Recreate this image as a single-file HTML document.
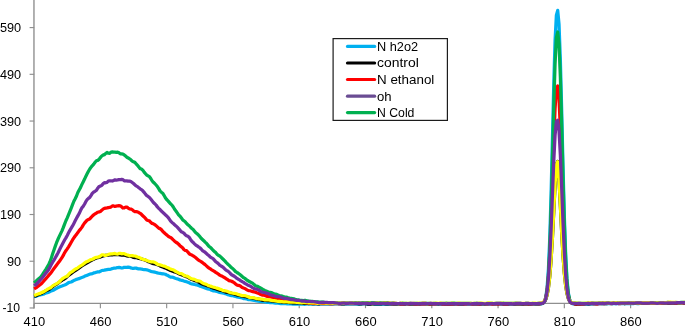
<!DOCTYPE html>
<html lang="en"><head><meta charset="utf-8"><title>Chart</title>
<style>html,body{margin:0;padding:0;background:#fff;overflow:hidden}svg{display:block}</style></head>
<body>
<svg width="685" height="326" viewBox="0 0 685 326">
<rect width="685" height="326" fill="#fff"/>
<g stroke="#a9a9a9" stroke-width="1.8" fill="none">
<path d="M33.95,0 V308.4"/>
</g>
<g stroke="#8f8f8f" stroke-width="1.15" fill="none">
<path d="M34.2,303.4 H685"/>
<path d="M34.10,303.4 V308.2"/>
<path d="M100.38,303.4 V308.2"/>
<path d="M166.66,303.4 V308.2"/>
<path d="M232.94,303.4 V308.2"/>
<path d="M299.22,303.4 V308.2"/>
<path d="M365.50,303.4 V308.2"/>
<path d="M431.78,303.4 V308.2"/>
<path d="M498.06,303.4 V308.2"/>
<path d="M564.34,303.4 V308.2"/>
<path d="M630.62,303.4 V308.2"/>
<path d="M29.6,307.97 H34.2"/>
<path d="M29.6,261.24 H34.2"/>
<path d="M29.6,214.51 H34.2"/>
<path d="M29.6,167.78 H34.2"/>
<path d="M29.6,121.05 H34.2"/>
<path d="M29.6,74.32 H34.2"/>
<path d="M29.6,27.59 H34.2"/>
</g>
<g font-family="'Liberation Sans', Arial, sans-serif" font-size="12.4" fill="#000">
<text x="2.50" y="312.47" textLength="17.6" lengthAdjust="spacingAndGlyphs">-10</text>
<text x="6.90" y="265.74" textLength="14.2" lengthAdjust="spacingAndGlyphs">90</text>
<text x="-0.10" y="219.01" textLength="21.2" lengthAdjust="spacingAndGlyphs">190</text>
<text x="-0.10" y="172.28" textLength="21.2" lengthAdjust="spacingAndGlyphs">290</text>
<text x="-0.10" y="125.55" textLength="21.2" lengthAdjust="spacingAndGlyphs">390</text>
<text x="-0.10" y="78.82" textLength="21.2" lengthAdjust="spacingAndGlyphs">490</text>
<text x="-0.10" y="32.09" textLength="21.2" lengthAdjust="spacingAndGlyphs">590</text>
<text x="23.60" y="325.9" textLength="21.6" lengthAdjust="spacingAndGlyphs">410</text>
<text x="89.88" y="325.9" textLength="21.6" lengthAdjust="spacingAndGlyphs">460</text>
<text x="156.16" y="325.9" textLength="21.6" lengthAdjust="spacingAndGlyphs">510</text>
<text x="222.44" y="325.9" textLength="21.6" lengthAdjust="spacingAndGlyphs">560</text>
<text x="288.72" y="325.9" textLength="21.6" lengthAdjust="spacingAndGlyphs">610</text>
<text x="355.00" y="325.9" textLength="21.6" lengthAdjust="spacingAndGlyphs">660</text>
<text x="421.28" y="325.9" textLength="21.6" lengthAdjust="spacingAndGlyphs">710</text>
<text x="487.56" y="325.9" textLength="21.6" lengthAdjust="spacingAndGlyphs">760</text>
<text x="553.84" y="325.9" textLength="21.6" lengthAdjust="spacingAndGlyphs">810</text>
<text x="620.12" y="325.9" textLength="21.6" lengthAdjust="spacingAndGlyphs">860</text>
</g>
<g fill="none" stroke-width="3.25" stroke-linejoin="round" stroke-linecap="butt">
<path stroke="#00B0F0" d="M34.10,296.78 L35.43,296.46 L36.75,296.00 L38.08,295.51 L39.40,295.07 L40.73,294.71 L42.05,294.53 L43.38,294.25 L44.70,293.58 L46.03,293.01 L47.36,292.69 L48.68,292.23 L50.01,291.55 L51.33,290.88 L52.66,290.46 L53.98,289.93 L55.31,289.11 L56.64,288.36 L57.96,287.63 L59.29,286.94 L60.61,286.44 L61.94,285.99 L63.26,285.48 L64.59,285.06 L65.91,284.55 L67.24,283.60 L68.57,282.67 L69.89,282.28 L71.22,282.00 L72.54,281.31 L73.87,280.49 L75.19,279.89 L76.52,279.33 L77.84,278.95 L79.17,278.62 L80.50,277.94 L81.82,277.46 L83.15,277.06 L84.47,276.35 L85.80,275.80 L87.12,275.40 L88.45,274.77 L89.78,274.13 L91.10,273.97 L92.43,273.63 L93.75,272.94 L95.08,272.65 L96.40,272.26 L97.73,271.90 L99.05,271.92 L100.38,271.34 L101.71,270.50 L103.03,270.30 L104.36,270.17 L105.68,269.85 L107.01,269.60 L108.33,269.35 L109.66,269.29 L110.98,269.08 L112.31,268.55 L113.64,268.23 L114.96,268.08 L116.29,267.84 L117.61,267.53 L118.94,267.46 L120.26,267.70 L121.59,268.00 L122.92,267.85 L124.24,267.30 L125.57,267.31 L126.89,267.44 L128.22,267.19 L129.54,267.35 L130.87,267.90 L132.19,268.31 L133.52,268.33 L134.85,268.13 L136.17,268.16 L137.50,268.58 L138.82,268.98 L140.15,268.93 L141.47,269.01 L142.80,269.36 L144.12,269.56 L145.45,269.63 L146.78,269.80 L148.10,270.19 L149.43,270.71 L150.75,271.30 L152.08,271.61 L153.40,271.79 L154.73,272.09 L156.06,272.45 L157.38,272.89 L158.71,273.24 L160.03,273.41 L161.36,273.61 L162.68,273.93 L164.01,273.99 L165.33,274.28 L166.66,274.99 L167.99,275.60 L169.31,276.44 L170.64,277.12 L171.96,277.10 L173.29,277.32 L174.61,278.01 L175.94,278.53 L177.26,278.85 L178.59,279.32 L179.92,279.94 L181.24,280.27 L182.57,280.46 L183.89,280.96 L185.22,281.42 L186.54,281.79 L187.87,282.28 L189.20,282.82 L190.52,283.45 L191.85,283.90 L193.17,284.17 L194.50,284.50 L195.82,284.77 L197.15,284.96 L198.47,285.53 L199.80,286.10 L201.13,286.47 L202.45,286.98 L203.78,287.43 L205.10,287.93 L206.43,288.43 L207.75,288.94 L209.08,289.22 L210.40,289.51 L211.73,290.30 L213.06,290.84 L214.38,290.95 L215.71,291.17 L217.03,291.48 L218.36,291.92 L219.68,292.44 L221.01,292.75 L222.34,292.99 L223.66,293.28 L224.99,293.54 L226.31,294.02 L227.64,294.62 L228.96,295.02 L230.29,295.35 L231.61,295.57 L232.94,295.76 L234.27,296.09 L235.59,296.46 L236.92,296.84 L238.24,297.15 L239.57,297.37 L240.89,297.57 L242.22,298.06 L243.54,298.59 L244.87,298.69 L246.20,298.84 L247.52,299.36 L248.85,299.67 L250.17,299.68 L251.50,299.88 L252.82,300.06 L254.15,300.28 L255.48,300.71 L256.80,300.99 L258.13,301.10 L259.45,301.27 L260.78,301.49 L262.10,301.64 L263.43,301.74 L264.75,301.80 L266.08,302.04 L267.41,302.37 L268.73,302.49 L270.06,302.59 L271.38,302.70 L272.71,302.75 L274.03,302.90 L275.36,303.07 L276.68,303.14 L278.01,303.21 L279.34,303.38 L280.66,303.56 L281.99,303.63 L283.31,303.60 L284.64,303.51 L285.96,303.56 L287.29,303.80 L288.62,303.91 L289.94,303.89 L291.27,303.95 L292.59,304.04 L293.92,304.09 L295.24,304.07 L296.57,304.06 L297.89,304.07 L299.22,304.03 L300.55,304.09 L301.87,304.17 L303.20,304.24 L304.52,304.32 L305.85,304.23 L307.17,303.98 L308.50,303.94 L309.82,304.04 L311.15,304.03 L312.48,304.06 L313.80,304.07 L315.13,303.87 L316.45,303.82 L317.78,303.97 L319.10,304.03 L320.43,303.99 L321.76,303.95 L323.08,303.84 L324.41,303.79 L325.73,303.83 L327.06,303.77 L328.38,303.76 L329.71,303.88 L331.03,303.94 L332.36,303.88 L333.69,303.77 L335.01,303.71 L336.34,303.69 L337.66,303.73 L338.99,303.78 L340.31,303.79 L341.64,303.85 L342.96,303.98 L344.29,303.98 L345.62,303.85 L346.94,303.86 L348.27,303.89 L349.59,303.80 L350.92,303.73 L352.24,303.83 L353.57,303.97 L354.90,303.98 L356.22,303.97 L357.55,304.04 L358.87,304.13 L360.20,304.01 L361.52,303.85 L362.85,303.83 L364.17,303.73 L365.50,303.69 L366.83,303.93 L368.15,304.14 L369.48,304.06 L370.80,303.92 L372.13,303.97 L373.45,304.11 L374.78,304.11 L376.10,304.06 L377.43,304.05 L378.76,304.08 L380.08,304.14 L381.41,304.14 L382.73,304.05 L384.06,304.00 L385.38,304.02 L386.71,304.06 L388.04,304.06 L389.36,303.99 L390.69,303.99 L392.01,303.99 L393.34,304.01 L394.66,304.19 L395.99,304.22 L397.31,304.10 L398.64,304.11 L399.97,304.01 L401.29,303.87 L402.62,303.96 L403.94,304.06 L405.27,304.01 L406.59,303.96 L407.92,303.98 L409.24,304.07 L410.57,304.15 L411.90,304.12 L413.22,304.12 L414.55,304.15 L415.87,304.05 L417.20,303.92 L418.52,303.95 L419.85,304.14 L421.18,304.23 L422.50,304.19 L423.83,304.14 L425.15,304.09 L426.48,304.06 L427.80,304.03 L429.13,304.03 L430.45,304.11 L431.78,304.20 L433.11,304.15 L434.43,304.04 L435.76,303.98 L437.08,304.04 L438.41,304.17 L439.73,304.16 L441.06,304.06 L442.38,303.98 L443.71,303.94 L445.04,304.04 L446.36,304.10 L447.69,304.04 L449.01,304.01 L450.34,304.03 L451.66,303.99 L452.99,303.92 L454.32,303.93 L455.64,304.01 L456.97,304.06 L458.29,304.05 L459.62,304.13 L460.94,304.18 L462.27,304.06 L463.59,304.00 L464.92,304.04 L466.25,304.02 L467.57,303.99 L468.90,304.13 L470.22,304.22 L471.55,304.10 L472.87,303.98 L474.20,303.97 L475.52,303.98 L476.85,303.92 L478.18,303.96 L479.50,304.07 L480.83,304.07 L482.15,304.16 L483.48,304.23 L484.80,304.15 L486.13,304.18 L487.46,304.22 L488.78,304.09 L490.11,303.94 L491.43,303.92 L492.76,304.06 L494.08,304.21 L495.41,304.15 L496.73,303.98 L498.06,303.92 L499.39,303.99 L500.71,304.05 L502.04,304.05 L503.36,304.07 L504.69,304.07 L506.01,304.04 L507.34,304.04 L508.66,304.06 L509.99,304.07 L511.32,304.16 L512.64,304.24 L513.97,304.17 L515.29,304.01 L516.62,303.93 L517.94,303.94 L519.27,303.85 L520.60,303.89 L521.92,304.09 L523.25,304.13 L524.57,304.00 L525.90,303.89 L527.22,303.92 L528.55,304.01 L529.87,304.16 L531.20,304.26 L532.53,304.13 L533.85,303.95 L535.18,303.92 L536.50,303.99 L537.83,303.98 L539.15,303.94 L540.48,303.90 L541.80,303.81 L543.13,303.27 L544.46,301.59 L545.78,297.18 L547.11,287.42 L548.43,268.78 L549.76,237.86 L551.08,193.71 L552.41,139.95 L553.74,85.13 L555.06,40.52 L556.39,15.10 L557.71,10.42 L559.04,24.50 L560.36,59.82 L561.69,110.38 L563.01,165.94 L564.34,216.06 L565.67,254.11 L566.99,278.91 L568.32,292.90 L569.64,299.67 L570.97,302.50 L572.29,303.57 L573.62,303.97 L574.94,303.99 L576.27,303.93 L577.60,304.06 L578.92,304.16 L580.25,304.11 L581.57,303.99 L582.90,303.87 L584.22,303.95 L585.55,304.11 L586.88,304.10 L588.20,304.03 L589.53,303.93 L590.85,303.81 L592.18,303.73 L593.50,303.81 L594.83,303.88 L596.15,303.84 L597.48,303.90 L598.81,303.87 L600.13,303.72 L601.46,303.70 L602.78,303.74 L604.11,303.74 L605.43,303.69 L606.76,303.65 L608.08,303.64 L609.41,303.58 L610.74,303.57 L612.06,303.71 L613.39,303.73 L614.71,303.60 L616.04,303.59 L617.36,303.58 L618.69,303.59 L620.02,303.68 L621.34,303.72 L622.67,303.73 L623.99,303.65 L625.32,303.61 L626.64,303.57 L627.97,303.55 L629.29,303.61 L630.62,303.63 L631.95,303.62 L633.27,303.53 L634.60,303.43 L635.92,303.48 L637.25,303.58 L638.57,303.57 L639.90,303.46 L641.22,303.36 L642.55,303.34 L643.88,303.40 L645.20,303.30 L646.53,303.21 L647.85,303.40 L649.18,303.47 L650.50,303.27 L651.83,303.19 L653.16,303.21 L654.48,303.26 L655.81,303.32 L657.13,303.27 L658.46,303.27 L659.78,303.33 L661.11,303.31 L662.43,303.28 L663.76,303.18 L665.09,303.03 L666.41,303.14 L667.74,303.37 L669.06,303.35 L670.39,303.27 L671.71,303.27 L673.04,303.26 L674.36,303.35 L675.69,303.37 L677.02,303.12 L678.34,302.93 L679.67,302.93 L680.99,303.02 L682.32,303.22 L683.64,303.24 L684.97,303.09"/>
<path stroke="#000000" d="M34.10,296.19 L35.43,295.89 L36.75,295.41 L38.08,294.69 L39.40,294.19 L40.73,293.73 L42.05,293.13 L43.38,292.37 L44.70,291.56 L46.03,290.74 L47.36,290.11 L48.68,289.62 L50.01,288.79 L51.33,287.72 L52.66,286.64 L53.98,285.67 L55.31,284.92 L56.64,284.14 L57.96,283.22 L59.29,282.20 L60.61,281.17 L61.94,280.28 L63.26,279.48 L64.59,278.74 L65.91,277.81 L67.24,276.53 L68.57,275.36 L69.89,274.41 L71.22,273.40 L72.54,272.42 L73.87,271.49 L75.19,270.57 L76.52,269.76 L77.84,268.89 L79.17,267.95 L80.50,266.98 L81.82,265.97 L83.15,265.10 L84.47,264.34 L85.80,263.61 L87.12,262.91 L88.45,262.08 L89.78,261.23 L91.10,260.55 L92.43,259.83 L93.75,259.24 L95.08,258.62 L96.40,257.98 L97.73,257.68 L99.05,257.38 L100.38,256.88 L101.71,256.43 L103.03,256.01 L104.36,255.67 L105.68,255.44 L107.01,255.27 L108.33,255.05 L109.66,254.85 L110.98,254.85 L112.31,254.84 L113.64,254.69 L114.96,254.67 L116.29,254.63 L117.61,254.55 L118.94,254.76 L120.26,255.00 L121.59,255.11 L122.92,255.18 L124.24,255.21 L125.57,255.45 L126.89,255.83 L128.22,256.09 L129.54,256.14 L130.87,256.28 L132.19,256.83 L133.52,257.41 L134.85,257.70 L136.17,257.75 L137.50,257.95 L138.82,258.51 L140.15,258.73 L141.47,258.88 L142.80,259.43 L144.12,259.80 L145.45,260.17 L146.78,260.90 L148.10,261.58 L149.43,261.98 L150.75,262.54 L152.08,263.30 L153.40,263.74 L154.73,263.94 L156.06,264.20 L157.38,264.58 L158.71,265.19 L160.03,265.93 L161.36,266.52 L162.68,267.07 L164.01,267.59 L165.33,267.97 L166.66,268.56 L167.99,269.27 L169.31,269.90 L170.64,270.47 L171.96,270.91 L173.29,271.37 L174.61,271.88 L175.94,272.24 L177.26,272.78 L178.59,273.60 L179.92,274.27 L181.24,274.70 L182.57,275.10 L183.89,275.71 L185.22,276.33 L186.54,276.75 L187.87,277.24 L189.20,278.08 L190.52,278.93 L191.85,279.44 L193.17,279.87 L194.50,280.50 L195.82,280.96 L197.15,281.25 L198.47,281.97 L199.80,282.81 L201.13,283.48 L202.45,284.12 L203.78,284.58 L205.10,284.95 L206.43,285.44 L207.75,285.92 L209.08,286.30 L210.40,286.83 L211.73,287.54 L213.06,288.06 L214.38,288.32 L215.71,288.67 L217.03,289.22 L218.36,289.73 L219.68,290.15 L221.01,290.52 L222.34,290.76 L223.66,291.11 L224.99,291.61 L226.31,292.13 L227.64,292.45 L228.96,292.55 L230.29,292.91 L231.61,293.39 L232.94,293.64 L234.27,293.96 L235.59,294.52 L236.92,294.93 L238.24,295.15 L239.57,295.44 L240.89,295.80 L242.22,296.12 L243.54,296.39 L244.87,296.53 L246.20,296.77 L247.52,297.12 L248.85,297.43 L250.17,297.77 L251.50,297.99 L252.82,298.14 L254.15,298.41 L255.48,298.72 L256.80,298.97 L258.13,299.10 L259.45,299.34 L260.78,299.79 L262.10,300.17 L263.43,300.29 L264.75,300.26 L266.08,300.43 L267.41,300.66 L268.73,300.68 L270.06,300.72 L271.38,300.96 L272.71,301.14 L274.03,301.13 L275.36,301.13 L276.68,301.35 L278.01,301.63 L279.34,301.74 L280.66,301.87 L281.99,302.07 L283.31,302.18 L284.64,302.25 L285.96,302.32 L287.29,302.35 L288.62,302.39 L289.94,302.54 L291.27,302.73 L292.59,302.77 L293.92,302.74 L295.24,302.82 L296.57,302.95 L297.89,303.00 L299.22,302.92 L300.55,302.95 L301.87,303.21 L303.20,303.48 L304.52,303.47 L305.85,303.38 L307.17,303.50 L308.50,303.59 L309.82,303.47 L311.15,303.46 L312.48,303.59 L313.80,303.63 L315.13,303.59 L316.45,303.62 L317.78,303.79 L319.10,303.84 L320.43,303.75 L321.76,303.61 L323.08,303.51 L324.41,303.60 L325.73,303.68 L327.06,303.72 L328.38,303.73 L329.71,303.60 L331.03,303.54 L332.36,303.61 L333.69,303.63 L335.01,303.61 L336.34,303.62 L337.66,303.55 L338.99,303.55 L340.31,303.72 L341.64,303.83 L342.96,303.90 L344.29,303.93 L345.62,303.73 L346.94,303.54 L348.27,303.53 L349.59,303.58 L350.92,303.66 L352.24,303.66 L353.57,303.61 L354.90,303.66 L356.22,303.69 L357.55,303.75 L358.87,303.80 L360.20,303.77 L361.52,303.76 L362.85,303.73 L364.17,303.66 L365.50,303.64 L366.83,303.80 L368.15,304.03 L369.48,304.09 L370.80,304.01 L372.13,303.88 L373.45,303.83 L374.78,303.89 L376.10,303.85 L377.43,303.78 L378.76,303.78 L380.08,303.78 L381.41,303.77 L382.73,303.73 L384.06,303.69 L385.38,303.82 L386.71,303.96 L388.04,303.88 L389.36,303.80 L390.69,303.86 L392.01,303.83 L393.34,303.73 L394.66,303.78 L395.99,303.88 L397.31,303.86 L398.64,303.88 L399.97,303.90 L401.29,303.81 L402.62,303.76 L403.94,303.82 L405.27,303.82 L406.59,303.68 L407.92,303.65 L409.24,303.76 L410.57,303.86 L411.90,303.93 L413.22,303.87 L414.55,303.76 L415.87,303.79 L417.20,303.78 L418.52,303.76 L419.85,303.78 L421.18,303.66 L422.50,303.58 L423.83,303.63 L425.15,303.64 L426.48,303.70 L427.80,303.82 L429.13,303.90 L430.45,303.93 L431.78,303.79 L433.11,303.64 L434.43,303.64 L435.76,303.65 L437.08,303.68 L438.41,303.76 L439.73,303.69 L441.06,303.64 L442.38,303.77 L443.71,303.83 L445.04,303.83 L446.36,303.85 L447.69,303.86 L449.01,303.88 L450.34,303.92 L451.66,303.90 L452.99,303.86 L454.32,303.79 L455.64,303.69 L456.97,303.72 L458.29,303.78 L459.62,303.75 L460.94,303.76 L462.27,303.88 L463.59,303.83 L464.92,303.64 L466.25,303.60 L467.57,303.71 L468.90,303.75 L470.22,303.74 L471.55,303.75 L472.87,303.77 L474.20,303.79 L475.52,303.76 L476.85,303.81 L478.18,303.98 L479.50,304.00 L480.83,303.80 L482.15,303.69 L483.48,303.75 L484.80,303.78 L486.13,303.72 L487.46,303.71 L488.78,303.74 L490.11,303.68 L491.43,303.67 L492.76,303.64 L494.08,303.56 L495.41,303.58 L496.73,303.72 L498.06,303.79 L499.39,303.72 L500.71,303.63 L502.04,303.72 L503.36,303.87 L504.69,303.87 L506.01,303.78 L507.34,303.75 L508.66,303.79 L509.99,303.73 L511.32,303.65 L512.64,303.75 L513.97,303.89 L515.29,303.92 L516.62,303.88 L517.94,303.85 L519.27,303.83 L520.60,303.78 L521.92,303.86 L523.25,304.02 L524.57,303.94 L525.90,303.79 L527.22,303.79 L528.55,303.87 L529.87,303.89 L531.20,303.74 L532.53,303.63 L533.85,303.71 L535.18,303.79 L536.50,303.85 L537.83,303.90 L539.15,303.84 L540.48,303.64 L541.80,303.33 L543.13,302.79 L544.46,301.63 L545.78,299.30 L547.11,295.06 L548.43,287.92 L549.76,276.61 L551.08,260.05 L552.41,238.07 L553.74,212.02 L555.06,185.37 L556.39,164.51 L557.71,161.53 L559.04,179.79 L560.36,205.78 L561.69,232.40 L563.01,255.47 L564.34,273.28 L565.67,285.72 L566.99,293.69 L568.32,298.48 L569.64,301.16 L570.97,302.54 L572.29,303.22 L573.62,303.52 L574.94,303.83 L576.27,304.05 L577.60,304.00 L578.92,303.84 L580.25,303.79 L581.57,303.77 L582.90,303.79 L584.22,303.78 L585.55,303.69 L586.88,303.71 L588.20,303.77 L589.53,303.79 L590.85,303.70 L592.18,303.60 L593.50,303.66 L594.83,303.69 L596.15,303.66 L597.48,303.62 L598.81,303.47 L600.13,303.41 L601.46,303.58 L602.78,303.66 L604.11,303.59 L605.43,303.59 L606.76,303.60 L608.08,303.49 L609.41,303.41 L610.74,303.50 L612.06,303.52 L613.39,303.45 L614.71,303.48 L616.04,303.40 L617.36,303.37 L618.69,303.49 L620.02,303.41 L621.34,303.27 L622.67,303.35 L623.99,303.50 L625.32,303.50 L626.64,303.40 L627.97,303.40 L629.29,303.40 L630.62,303.32 L631.95,303.32 L633.27,303.30 L634.60,303.23 L635.92,303.23 L637.25,303.27 L638.57,303.25 L639.90,303.19 L641.22,303.24 L642.55,303.33 L643.88,303.34 L645.20,303.36 L646.53,303.38 L647.85,303.41 L649.18,303.38 L650.50,303.24 L651.83,303.19 L653.16,303.25 L654.48,303.37 L655.81,303.28 L657.13,302.98 L658.46,302.97 L659.78,303.15 L661.11,303.23 L662.43,303.18 L663.76,303.12 L665.09,303.13 L666.41,303.12 L667.74,303.11 L669.06,303.01 L670.39,302.89 L671.71,302.91 L673.04,302.97 L674.36,303.01 L675.69,302.96 L677.02,302.89 L678.34,302.90 L679.67,302.83 L680.99,302.73 L682.32,302.73 L683.64,302.86 L684.97,302.94"/>
<path stroke="#FF0000" d="M34.10,288.96 L35.43,288.19 L36.75,287.34 L38.08,286.28 L39.40,285.16 L40.73,284.21 L42.05,283.02 L43.38,281.46 L44.70,279.94 L46.03,278.54 L47.36,276.97 L48.68,275.40 L50.01,273.93 L51.33,272.22 L52.66,270.33 L53.98,268.46 L55.31,266.76 L56.64,264.93 L57.96,263.13 L59.29,261.53 L60.61,259.64 L61.94,257.69 L63.26,255.39 L64.59,252.77 L65.91,250.68 L67.24,248.87 L68.57,246.83 L69.89,244.67 L71.22,242.27 L72.54,239.95 L73.87,237.89 L75.19,235.96 L76.52,234.39 L77.84,232.58 L79.17,230.63 L80.50,229.11 L81.82,227.35 L83.15,225.09 L84.47,223.19 L85.80,221.67 L87.12,220.18 L88.45,219.49 L89.78,218.85 L91.10,217.41 L92.43,216.00 L93.75,214.77 L95.08,213.87 L96.40,213.03 L97.73,212.23 L99.05,211.93 L100.38,211.44 L101.71,210.34 L103.03,209.15 L104.36,208.43 L105.68,208.14 L107.01,207.88 L108.33,207.58 L109.66,207.46 L110.98,206.98 L112.31,205.98 L113.64,205.98 L114.96,206.44 L116.29,206.06 L117.61,205.76 L118.94,205.73 L120.26,205.81 L121.59,206.83 L122.92,208.02 L124.24,207.81 L125.57,207.04 L126.89,207.17 L128.22,208.13 L129.54,208.91 L130.87,209.04 L132.19,209.63 L133.52,210.90 L134.85,211.64 L136.17,211.73 L137.50,211.88 L138.82,212.54 L140.15,213.32 L141.47,214.34 L142.80,215.82 L144.12,216.99 L145.45,218.36 L146.78,219.93 L148.10,220.48 L149.43,220.87 L150.75,222.27 L152.08,223.44 L153.40,223.80 L154.73,224.60 L156.06,225.67 L157.38,226.92 L158.71,228.13 L160.03,228.61 L161.36,229.61 L162.68,231.23 L164.01,232.54 L165.33,233.78 L166.66,234.87 L167.99,236.03 L169.31,236.92 L170.64,237.47 L171.96,238.59 L173.29,239.93 L174.61,241.18 L175.94,242.22 L177.26,242.97 L178.59,244.18 L179.92,245.68 L181.24,246.66 L182.57,247.75 L183.89,249.55 L185.22,250.51 L186.54,250.69 L187.87,252.04 L189.20,253.77 L190.52,254.53 L191.85,255.06 L193.17,255.82 L194.50,256.73 L195.82,257.75 L197.15,258.91 L198.47,260.08 L199.80,260.93 L201.13,261.63 L202.45,262.56 L203.78,263.64 L205.10,264.64 L206.43,265.85 L207.75,267.15 L209.08,268.09 L210.40,268.94 L211.73,269.80 L213.06,270.58 L214.38,271.37 L215.71,272.33 L217.03,273.22 L218.36,274.05 L219.68,275.12 L221.01,275.83 L222.34,276.33 L223.66,277.09 L224.99,277.97 L226.31,278.83 L227.64,279.70 L228.96,280.56 L230.29,280.89 L231.61,281.23 L232.94,281.98 L234.27,282.79 L235.59,283.90 L236.92,284.98 L238.24,285.44 L239.57,285.67 L240.89,286.47 L242.22,287.53 L243.54,288.05 L244.87,288.52 L246.20,289.41 L247.52,290.23 L248.85,290.55 L250.17,290.75 L251.50,291.22 L252.82,291.67 L254.15,291.90 L255.48,292.28 L256.80,292.81 L258.13,293.26 L259.45,293.78 L260.78,294.51 L262.10,295.04 L263.43,295.13 L264.75,295.37 L266.08,295.87 L267.41,296.40 L268.73,296.79 L270.06,296.91 L271.38,297.01 L272.71,297.24 L274.03,297.73 L275.36,298.29 L276.68,298.54 L278.01,298.68 L279.34,299.00 L280.66,299.41 L281.99,299.68 L283.31,299.82 L284.64,299.92 L285.96,300.00 L287.29,300.39 L288.62,300.76 L289.94,300.76 L291.27,300.98 L292.59,301.31 L293.92,301.41 L295.24,301.53 L296.57,301.75 L297.89,301.94 L299.22,301.97 L300.55,301.98 L301.87,302.16 L303.20,302.31 L304.52,302.46 L305.85,302.69 L307.17,302.89 L308.50,302.95 L309.82,302.96 L311.15,303.13 L312.48,303.30 L313.80,303.38 L315.13,303.38 L316.45,303.28 L317.78,303.29 L319.10,303.32 L320.43,303.27 L321.76,303.31 L323.08,303.35 L324.41,303.28 L325.73,303.22 L327.06,303.29 L328.38,303.47 L329.71,303.62 L331.03,303.62 L332.36,303.52 L333.69,303.42 L335.01,303.41 L336.34,303.46 L337.66,303.49 L338.99,303.59 L340.31,303.64 L341.64,303.43 L342.96,303.22 L344.29,303.16 L345.62,303.12 L346.94,303.22 L348.27,303.41 L349.59,303.32 L350.92,303.17 L352.24,303.31 L353.57,303.38 L354.90,303.21 L356.22,303.09 L357.55,303.11 L358.87,303.20 L360.20,303.27 L361.52,303.33 L362.85,303.35 L364.17,303.34 L365.50,303.31 L366.83,303.11 L368.15,302.90 L369.48,302.95 L370.80,303.03 L372.13,303.04 L373.45,303.08 L374.78,302.98 L376.10,302.99 L377.43,303.18 L378.76,303.21 L380.08,303.17 L381.41,303.25 L382.73,303.29 L384.06,303.10 L385.38,302.90 L386.71,302.99 L388.04,303.12 L389.36,303.19 L390.69,303.39 L392.01,303.52 L393.34,303.44 L394.66,303.52 L395.99,303.74 L397.31,303.70 L398.64,303.69 L399.97,303.87 L401.29,303.77 L402.62,303.74 L403.94,303.77 L405.27,303.71 L406.59,303.66 L407.92,303.76 L409.24,303.79 L410.57,303.74 L411.90,303.75 L413.22,303.87 L414.55,303.94 L415.87,303.86 L417.20,303.83 L418.52,303.80 L419.85,303.77 L421.18,303.84 L422.50,303.90 L423.83,303.90 L425.15,303.80 L426.48,303.69 L427.80,303.70 L429.13,303.79 L430.45,303.87 L431.78,303.90 L433.11,303.88 L434.43,303.91 L435.76,303.92 L437.08,303.76 L438.41,303.59 L439.73,303.54 L441.06,303.65 L442.38,303.79 L443.71,303.80 L445.04,303.84 L446.36,303.91 L447.69,303.95 L449.01,303.89 L450.34,303.77 L451.66,303.73 L452.99,303.76 L454.32,303.75 L455.64,303.71 L456.97,303.79 L458.29,303.81 L459.62,303.69 L460.94,303.67 L462.27,303.70 L463.59,303.76 L464.92,303.82 L466.25,303.81 L467.57,303.75 L468.90,303.70 L470.22,303.75 L471.55,303.77 L472.87,303.78 L474.20,303.69 L475.52,303.52 L476.85,303.59 L478.18,303.80 L479.50,303.89 L480.83,303.85 L482.15,303.73 L483.48,303.70 L484.80,303.88 L486.13,303.95 L487.46,303.82 L488.78,303.67 L490.11,303.65 L491.43,303.86 L492.76,304.03 L494.08,303.97 L495.41,303.90 L496.73,303.80 L498.06,303.75 L499.39,303.77 L500.71,303.70 L502.04,303.69 L503.36,303.80 L504.69,303.85 L506.01,303.83 L507.34,303.77 L508.66,303.65 L509.99,303.62 L511.32,303.67 L512.64,303.64 L513.97,303.57 L515.29,303.58 L516.62,303.59 L517.94,303.53 L519.27,303.50 L520.60,303.57 L521.92,303.72 L523.25,303.87 L524.57,303.87 L525.90,303.68 L527.22,303.67 L528.55,303.79 L529.87,303.76 L531.20,303.78 L532.53,303.86 L533.85,303.75 L535.18,303.59 L536.50,303.61 L537.83,303.73 L539.15,303.71 L540.48,303.52 L541.80,303.45 L543.13,302.92 L544.46,301.39 L545.78,297.76 L547.11,290.26 L548.43,276.36 L549.76,253.77 L551.08,222.00 L552.41,183.15 L553.74,142.58 L555.06,108.54 L556.39,88.69 L557.71,85.89 L559.04,99.44 L560.36,128.70 L561.69,167.74 L563.01,208.03 L564.34,243.00 L565.67,269.11 L566.99,285.95 L568.32,295.50 L569.64,300.31 L570.97,302.48 L572.29,303.29 L573.62,303.48 L574.94,303.86 L576.27,303.97 L577.60,303.85 L578.92,303.76 L580.25,303.84 L581.57,303.95 L582.90,303.87 L584.22,303.67 L585.55,303.52 L586.88,303.46 L588.20,303.33 L589.53,303.36 L590.85,303.48 L592.18,303.49 L593.50,303.51 L594.83,303.64 L596.15,303.80 L597.48,303.76 L598.81,303.65 L600.13,303.60 L601.46,303.48 L602.78,303.48 L604.11,303.51 L605.43,303.39 L606.76,303.32 L608.08,303.33 L609.41,303.48 L610.74,303.57 L612.06,303.45 L613.39,303.36 L614.71,303.28 L616.04,303.18 L617.36,303.28 L618.69,303.58 L620.02,303.70 L621.34,303.49 L622.67,303.33 L623.99,303.35 L625.32,303.37 L626.64,303.39 L627.97,303.39 L629.29,303.37 L630.62,303.33 L631.95,303.22 L633.27,303.10 L634.60,303.03 L635.92,303.03 L637.25,303.05 L638.57,303.08 L639.90,303.11 L641.22,303.18 L642.55,303.17 L643.88,303.01 L645.20,302.96 L646.53,303.05 L647.85,303.26 L649.18,303.40 L650.50,303.29 L651.83,303.20 L653.16,303.16 L654.48,303.09 L655.81,303.13 L657.13,302.93 L658.46,302.87 L659.78,303.27 L661.11,303.30 L662.43,303.01 L663.76,302.97 L665.09,303.00 L666.41,302.92 L667.74,302.80 L669.06,302.85 L670.39,302.99 L671.71,303.07 L673.04,303.09 L674.36,303.14 L675.69,303.15 L677.02,302.98 L678.34,302.79 L679.67,302.63 L680.99,302.71 L682.32,302.90 L683.64,302.86 L684.97,302.86"/>
<path stroke="#00B050" d="M34.10,282.88 L35.43,281.62 L36.75,280.50 L38.08,279.33 L39.40,278.14 L40.73,276.99 L42.05,275.36 L43.38,273.20 L44.70,271.11 L46.03,269.08 L47.36,266.78 L48.68,264.47 L50.01,261.74 L51.33,257.95 L52.66,253.85 L53.98,249.95 L55.31,246.11 L56.64,242.48 L57.96,239.27 L59.29,236.36 L60.61,233.65 L61.94,230.87 L63.26,227.63 L64.59,224.06 L65.91,220.76 L67.24,217.82 L68.57,214.64 L69.89,211.34 L71.22,208.09 L72.54,204.69 L73.87,201.28 L75.19,198.76 L76.52,196.06 L77.84,192.48 L79.17,189.97 L80.50,187.68 L81.82,184.63 L83.15,182.00 L84.47,179.34 L85.80,176.39 L87.12,173.80 L88.45,171.26 L89.78,168.94 L91.10,167.12 L92.43,165.54 L93.75,164.11 L95.08,162.25 L96.40,160.74 L97.73,160.34 L99.05,159.39 L100.38,157.58 L101.71,156.00 L103.03,155.11 L104.36,154.65 L105.68,153.54 L107.01,152.51 L108.33,153.24 L109.66,153.37 L110.98,152.03 L112.31,151.95 L113.64,152.19 L114.96,152.23 L116.29,152.37 L117.61,152.08 L118.94,152.80 L120.26,153.81 L121.59,153.83 L122.92,154.10 L124.24,154.91 L125.57,156.09 L126.89,157.25 L128.22,157.97 L129.54,158.80 L130.87,159.79 L132.19,161.18 L133.52,161.87 L134.85,162.33 L136.17,163.92 L137.50,165.37 L138.82,167.06 L140.15,168.65 L141.47,169.02 L142.80,170.14 L144.12,172.17 L145.45,173.67 L146.78,175.02 L148.10,175.87 L149.43,176.65 L150.75,178.53 L152.08,180.79 L153.40,182.33 L154.73,183.51 L156.06,184.97 L157.38,186.53 L158.71,188.58 L160.03,190.92 L161.36,192.17 L162.68,193.20 L164.01,195.28 L165.33,197.70 L166.66,199.53 L167.99,200.84 L169.31,202.34 L170.64,203.88 L171.96,205.09 L173.29,206.99 L174.61,209.30 L175.94,210.99 L177.26,212.84 L178.59,214.80 L179.92,216.16 L181.24,217.74 L182.57,219.66 L183.89,220.80 L185.22,221.81 L186.54,223.43 L187.87,224.71 L189.20,225.78 L190.52,227.27 L191.85,228.42 L193.17,229.44 L194.50,231.13 L195.82,232.75 L197.15,233.82 L198.47,234.95 L199.80,236.59 L201.13,238.28 L202.45,239.50 L203.78,240.72 L205.10,242.11 L206.43,243.27 L207.75,244.86 L209.08,246.50 L210.40,247.42 L211.73,248.72 L213.06,250.32 L214.38,251.42 L215.71,252.59 L217.03,254.19 L218.36,255.31 L219.68,255.93 L221.01,257.11 L222.34,258.53 L223.66,259.78 L224.99,261.09 L226.31,262.54 L227.64,263.93 L228.96,265.11 L230.29,266.47 L231.61,267.72 L232.94,268.73 L234.27,270.17 L235.59,271.65 L236.92,272.48 L238.24,273.22 L239.57,274.21 L240.89,275.27 L242.22,276.56 L243.54,277.65 L244.87,278.36 L246.20,279.41 L247.52,280.53 L248.85,281.28 L250.17,281.98 L251.50,282.65 L252.82,283.41 L254.15,284.60 L255.48,285.71 L256.80,286.17 L258.13,286.59 L259.45,287.31 L260.78,288.15 L262.10,288.96 L263.43,289.77 L264.75,290.51 L266.08,291.04 L267.41,291.55 L268.73,292.02 L270.06,292.30 L271.38,292.59 L272.71,293.14 L274.03,293.73 L275.36,293.99 L276.68,294.34 L278.01,295.02 L279.34,295.46 L280.66,295.76 L281.99,296.17 L283.31,296.60 L284.64,296.92 L285.96,297.06 L287.29,297.40 L288.62,297.92 L289.94,298.24 L291.27,298.42 L292.59,298.60 L293.92,298.86 L295.24,299.29 L296.57,299.60 L297.89,299.78 L299.22,300.15 L300.55,300.35 L301.87,300.40 L303.20,300.51 L304.52,300.46 L305.85,300.48 L307.17,300.74 L308.50,301.05 L309.82,301.25 L311.15,301.41 L312.48,301.47 L313.80,301.52 L315.13,301.70 L316.45,301.79 L317.78,301.88 L319.10,302.01 L320.43,302.02 L321.76,302.06 L323.08,302.22 L324.41,302.46 L325.73,302.64 L327.06,302.65 L328.38,302.55 L329.71,302.53 L331.03,302.64 L332.36,302.69 L333.69,302.71 L335.01,302.87 L336.34,302.87 L337.66,302.84 L338.99,302.99 L340.31,303.10 L341.64,303.12 L342.96,303.12 L344.29,303.13 L345.62,303.20 L346.94,303.19 L348.27,303.14 L349.59,303.16 L350.92,303.10 L352.24,302.98 L353.57,302.90 L354.90,302.96 L356.22,302.99 L357.55,302.92 L358.87,302.99 L360.20,303.04 L361.52,302.89 L362.85,302.73 L364.17,302.85 L365.50,302.95 L366.83,302.88 L368.15,302.76 L369.48,302.70 L370.80,302.82 L372.13,302.91 L373.45,302.86 L374.78,302.79 L376.10,302.86 L377.43,302.96 L378.76,302.93 L380.08,302.84 L381.41,302.94 L382.73,303.10 L384.06,302.96 L385.38,302.86 L386.71,302.90 L388.04,302.99 L389.36,303.23 L390.69,303.30 L392.01,303.09 L393.34,303.06 L394.66,303.33 L395.99,303.50 L397.31,303.54 L398.64,303.53 L399.97,303.48 L401.29,303.30 L402.62,303.23 L403.94,303.27 L405.27,303.39 L406.59,303.48 L407.92,303.56 L409.24,303.47 L410.57,303.38 L411.90,303.51 L413.22,303.60 L414.55,303.46 L415.87,303.34 L417.20,303.44 L418.52,303.51 L419.85,303.38 L421.18,303.36 L422.50,303.46 L423.83,303.41 L425.15,303.30 L426.48,303.30 L427.80,303.34 L429.13,303.40 L430.45,303.47 L431.78,303.52 L433.11,303.44 L434.43,303.32 L435.76,303.41 L437.08,303.51 L438.41,303.51 L439.73,303.48 L441.06,303.36 L442.38,303.34 L443.71,303.39 L445.04,303.27 L446.36,303.23 L447.69,303.37 L449.01,303.37 L450.34,303.29 L451.66,303.22 L452.99,303.19 L454.32,303.24 L455.64,303.34 L456.97,303.32 L458.29,303.26 L459.62,303.32 L460.94,303.29 L462.27,303.29 L463.59,303.41 L464.92,303.36 L466.25,303.35 L467.57,303.45 L468.90,303.41 L470.22,303.39 L471.55,303.48 L472.87,303.50 L474.20,303.46 L475.52,303.43 L476.85,303.43 L478.18,303.43 L479.50,303.37 L480.83,303.42 L482.15,303.55 L483.48,303.51 L484.80,303.51 L486.13,303.60 L487.46,303.49 L488.78,303.38 L490.11,303.38 L491.43,303.38 L492.76,303.49 L494.08,303.52 L495.41,303.38 L496.73,303.33 L498.06,303.39 L499.39,303.37 L500.71,303.35 L502.04,303.32 L503.36,303.24 L504.69,303.27 L506.01,303.34 L507.34,303.37 L508.66,303.36 L509.99,303.34 L511.32,303.39 L512.64,303.38 L513.97,303.29 L515.29,303.22 L516.62,303.27 L517.94,303.34 L519.27,303.34 L520.60,303.41 L521.92,303.53 L523.25,303.59 L524.57,303.55 L525.90,303.40 L527.22,303.34 L528.55,303.45 L529.87,303.51 L531.20,303.50 L532.53,303.49 L533.85,303.53 L535.18,303.54 L536.50,303.51 L537.83,303.48 L539.15,303.46 L540.48,303.42 L541.80,303.29 L543.13,302.91 L544.46,301.72 L545.78,298.52 L547.11,290.94 L548.43,275.65 L549.76,249.12 L551.08,209.84 L552.41,160.40 L553.74,108.07 L555.06,63.94 L556.39,37.69 L557.71,32.01 L559.04,44.25 L560.36,76.86 L561.69,124.44 L563.01,176.75 L564.34,223.71 L565.67,259.09 L566.99,281.66 L568.32,293.99 L569.64,299.85 L570.97,302.23 L572.29,303.04 L573.62,303.24 L574.94,303.23 L576.27,303.18 L577.60,303.33 L578.92,303.40 L580.25,303.26 L581.57,303.25 L582.90,303.40 L584.22,303.44 L585.55,303.46 L586.88,303.43 L588.20,303.33 L589.53,303.30 L590.85,303.26 L592.18,303.22 L593.50,303.22 L594.83,303.27 L596.15,303.32 L597.48,303.25 L598.81,303.16 L600.13,303.16 L601.46,303.14 L602.78,303.06 L604.11,303.05 L605.43,303.08 L606.76,303.06 L608.08,303.04 L609.41,303.13 L610.74,303.32 L612.06,303.33 L613.39,303.18 L614.71,303.18 L616.04,303.28 L617.36,303.18 L618.69,303.05 L620.02,303.06 L621.34,303.12 L622.67,303.15 L623.99,303.16 L625.32,303.14 L626.64,303.02 L627.97,302.93 L629.29,302.97 L630.62,303.05 L631.95,302.98 L633.27,302.94 L634.60,303.06 L635.92,303.01 L637.25,302.81 L638.57,302.70 L639.90,302.70 L641.22,302.79 L642.55,302.82 L643.88,302.75 L645.20,302.71 L646.53,302.69 L647.85,302.72 L649.18,302.88 L650.50,302.86 L651.83,302.63 L653.16,302.62 L654.48,302.72 L655.81,302.71 L657.13,302.64 L658.46,302.59 L659.78,302.62 L661.11,302.71 L662.43,302.72 L663.76,302.68 L665.09,302.68 L666.41,302.56 L667.74,302.49 L669.06,302.62 L670.39,302.67 L671.71,302.66 L673.04,302.76 L674.36,302.71 L675.69,302.48 L677.02,302.50 L678.34,302.76 L679.67,302.74 L680.99,302.46 L682.32,302.32 L683.64,302.35 L684.97,302.41"/>
<path stroke="#FFFF00" d="M34.10,295.55 L35.43,295.11 L36.75,294.52 L38.08,294.04 L39.40,293.69 L40.73,293.02 L42.05,292.38 L43.38,291.89 L44.70,291.15 L46.03,290.22 L47.36,289.30 L48.68,288.60 L50.01,288.08 L51.33,287.08 L52.66,285.82 L53.98,285.04 L55.31,284.37 L56.64,283.61 L57.96,282.90 L59.29,281.78 L60.61,280.37 L61.94,279.13 L63.26,278.10 L64.59,277.33 L65.91,276.83 L67.24,276.15 L68.57,274.57 L69.89,272.88 L71.22,272.09 L72.54,271.33 L73.87,270.17 L75.19,269.21 L76.52,268.56 L77.84,267.83 L79.17,266.79 L80.50,265.86 L81.82,265.18 L83.15,264.20 L84.47,263.08 L85.80,262.11 L87.12,261.59 L88.45,261.01 L89.78,260.07 L91.10,259.61 L92.43,259.26 L93.75,258.52 L95.08,257.76 L96.40,257.26 L97.73,257.24 L99.05,256.95 L100.38,255.93 L101.71,254.92 L103.03,254.79 L104.36,255.31 L105.68,255.36 L107.01,254.96 L108.33,254.55 L109.66,254.03 L110.98,253.78 L112.31,253.87 L113.64,253.66 L114.96,253.48 L116.29,253.99 L117.61,254.14 L118.94,253.47 L120.26,253.37 L121.59,253.82 L122.92,253.65 L124.24,253.62 L125.57,254.41 L126.89,254.81 L128.22,255.15 L129.54,255.79 L130.87,255.72 L132.19,255.57 L133.52,255.83 L134.85,255.99 L136.17,256.42 L137.50,257.03 L138.82,257.31 L140.15,257.90 L141.47,258.83 L142.80,259.30 L144.12,259.55 L145.45,259.89 L146.78,260.42 L148.10,260.93 L149.43,261.38 L150.75,261.77 L152.08,261.81 L153.40,261.93 L154.73,262.36 L156.06,263.12 L157.38,264.15 L158.71,264.75 L160.03,264.90 L161.36,265.27 L162.68,265.74 L164.01,266.06 L165.33,266.60 L166.66,267.19 L167.99,267.67 L169.31,268.47 L170.64,269.16 L171.96,269.49 L173.29,269.82 L174.61,270.67 L175.94,271.62 L177.26,272.16 L178.59,272.94 L179.92,273.51 L181.24,273.61 L182.57,274.14 L183.89,275.26 L185.22,275.94 L186.54,276.02 L187.87,276.58 L189.20,277.47 L190.52,278.23 L191.85,278.80 L193.17,279.08 L194.50,279.38 L195.82,280.04 L197.15,280.84 L198.47,280.95 L199.80,281.07 L201.13,281.93 L202.45,282.93 L203.78,283.67 L205.10,283.95 L206.43,284.36 L207.75,285.15 L209.08,285.75 L210.40,286.11 L211.73,286.60 L213.06,287.00 L214.38,287.29 L215.71,287.74 L217.03,288.13 L218.36,288.60 L219.68,289.12 L221.01,289.50 L222.34,290.15 L223.66,290.68 L224.99,290.79 L226.31,291.02 L227.64,291.52 L228.96,292.12 L230.29,292.57 L231.61,292.95 L232.94,293.25 L234.27,293.47 L235.59,293.66 L236.92,293.96 L238.24,294.49 L239.57,294.86 L240.89,295.17 L242.22,295.66 L243.54,295.72 L244.87,295.63 L246.20,295.98 L247.52,296.46 L248.85,297.14 L250.17,297.59 L251.50,297.53 L252.82,297.61 L254.15,297.90 L255.48,298.23 L256.80,298.59 L258.13,298.76 L259.45,298.87 L260.78,299.11 L262.10,299.22 L263.43,299.47 L264.75,299.84 L266.08,299.90 L267.41,299.83 L268.73,299.94 L270.06,300.18 L271.38,300.49 L272.71,300.66 L274.03,300.68 L275.36,300.90 L276.68,301.17 L278.01,301.29 L279.34,301.46 L280.66,301.64 L281.99,301.71 L283.31,301.78 L284.64,301.95 L285.96,301.95 L287.29,301.87 L288.62,302.03 L289.94,302.12 L291.27,302.07 L292.59,302.02 L293.92,302.04 L295.24,302.21 L296.57,302.39 L297.89,302.45 L299.22,302.52 L300.55,302.72 L301.87,302.77 L303.20,302.68 L304.52,302.65 L305.85,302.64 L307.17,302.67 L308.50,302.78 L309.82,302.89 L311.15,302.87 L312.48,302.82 L313.80,302.87 L315.13,302.94 L316.45,303.12 L317.78,303.29 L319.10,303.22 L320.43,303.03 L321.76,302.89 L323.08,302.85 L324.41,302.96 L325.73,303.11 L327.06,303.13 L328.38,303.11 L329.71,303.13 L331.03,303.23 L332.36,303.29 L333.69,303.18 L335.01,303.10 L336.34,303.15 L337.66,303.20 L338.99,303.10 L340.31,303.00 L341.64,302.98 L342.96,303.05 L344.29,303.31 L345.62,303.43 L346.94,303.30 L348.27,303.28 L349.59,303.25 L350.92,303.15 L352.24,303.17 L353.57,303.20 L354.90,303.28 L356.22,303.34 L357.55,303.23 L358.87,303.28 L360.20,303.32 L361.52,303.27 L362.85,303.32 L364.17,303.38 L365.50,303.36 L366.83,303.37 L368.15,303.29 L369.48,303.22 L370.80,303.43 L372.13,303.58 L373.45,303.51 L374.78,303.36 L376.10,303.22 L377.43,303.20 L378.76,303.21 L380.08,303.26 L381.41,303.32 L382.73,303.27 L384.06,303.18 L385.38,303.14 L386.71,303.21 L388.04,303.27 L389.36,303.22 L390.69,303.29 L392.01,303.37 L393.34,303.24 L394.66,303.14 L395.99,303.24 L397.31,303.45 L398.64,303.53 L399.97,303.38 L401.29,303.24 L402.62,303.28 L403.94,303.33 L405.27,303.33 L406.59,303.44 L407.92,303.47 L409.24,303.39 L410.57,303.38 L411.90,303.45 L413.22,303.41 L414.55,303.33 L415.87,303.34 L417.20,303.29 L418.52,303.23 L419.85,303.27 L421.18,303.25 L422.50,303.15 L423.83,303.10 L425.15,303.22 L426.48,303.46 L427.80,303.54 L429.13,303.48 L430.45,303.40 L431.78,303.30 L433.11,303.28 L434.43,303.28 L435.76,303.19 L437.08,303.18 L438.41,303.26 L439.73,303.24 L441.06,303.22 L442.38,303.28 L443.71,303.34 L445.04,303.37 L446.36,303.33 L447.69,303.28 L449.01,303.29 L450.34,303.26 L451.66,303.22 L452.99,303.27 L454.32,303.37 L455.64,303.43 L456.97,303.36 L458.29,303.20 L459.62,303.18 L460.94,303.26 L462.27,303.28 L463.59,303.25 L464.92,303.27 L466.25,303.35 L467.57,303.30 L468.90,303.27 L470.22,303.40 L471.55,303.41 L472.87,303.33 L474.20,303.31 L475.52,303.32 L476.85,303.35 L478.18,303.30 L479.50,303.21 L480.83,303.21 L482.15,303.23 L483.48,303.29 L484.80,303.32 L486.13,303.29 L487.46,303.11 L488.78,302.99 L490.11,303.09 L491.43,303.16 L492.76,303.29 L494.08,303.41 L495.41,303.35 L496.73,303.27 L498.06,303.26 L499.39,303.26 L500.71,303.23 L502.04,303.19 L503.36,303.25 L504.69,303.36 L506.01,303.38 L507.34,303.37 L508.66,303.32 L509.99,303.29 L511.32,303.31 L512.64,303.36 L513.97,303.39 L515.29,303.33 L516.62,303.22 L517.94,303.28 L519.27,303.39 L520.60,303.33 L521.92,303.32 L523.25,303.45 L524.57,303.47 L525.90,303.37 L527.22,303.38 L528.55,303.49 L529.87,303.45 L531.20,303.35 L532.53,303.25 L533.85,303.12 L535.18,303.15 L536.50,303.28 L537.83,303.31 L539.15,303.17 L540.48,302.92 L541.80,302.78 L543.13,302.21 L544.46,301.03 L545.78,298.79 L547.11,294.70 L548.43,287.63 L549.76,276.28 L551.08,259.66 L552.41,237.57 L553.74,211.39 L555.06,184.98 L556.39,164.49 L557.71,161.66 L559.04,179.87 L560.36,205.72 L561.69,232.25 L563.01,255.30 L564.34,272.97 L565.67,285.24 L566.99,293.17 L568.32,297.98 L569.64,300.72 L570.97,302.13 L572.29,302.76 L573.62,302.98 L574.94,303.13 L576.27,303.22 L577.60,303.23 L578.92,303.25 L580.25,303.25 L581.57,303.25 L582.90,303.28 L584.22,303.25 L585.55,303.17 L586.88,303.14 L588.20,303.16 L589.53,303.20 L590.85,303.18 L592.18,303.14 L593.50,303.04 L594.83,303.00 L596.15,303.07 L597.48,303.07 L598.81,303.12 L600.13,303.07 L601.46,302.88 L602.78,302.86 L604.11,302.91 L605.43,302.87 L606.76,302.90 L608.08,303.02 L609.41,303.03 L610.74,303.00 L612.06,302.97 L613.39,302.94 L614.71,302.90 L616.04,302.94 L617.36,303.00 L618.69,302.94 L620.02,302.82 L621.34,302.78 L622.67,302.88 L623.99,302.92 L625.32,302.83 L626.64,302.80 L627.97,303.00 L629.29,303.11 L630.62,302.95 L631.95,302.86 L633.27,302.74 L634.60,302.56 L635.92,302.64 L637.25,302.79 L638.57,302.86 L639.90,302.76 L641.22,302.64 L642.55,302.68 L643.88,302.70 L645.20,302.66 L646.53,302.60 L647.85,302.54 L649.18,302.63 L650.50,302.85 L651.83,302.95 L653.16,302.85 L654.48,302.77 L655.81,302.83 L657.13,302.88 L658.46,302.90 L659.78,302.80 L661.11,302.65 L662.43,302.61 L663.76,302.62 L665.09,302.61 L666.41,302.54 L667.74,302.35 L669.06,302.22 L670.39,302.22 L671.71,302.25 L673.04,302.39 L674.36,302.40 L675.69,302.33 L677.02,302.49 L678.34,302.59 L679.67,302.59 L680.99,302.72 L682.32,302.65 L683.64,302.44 L684.97,302.45"/>
<path stroke="#7030A0" d="M34.10,285.72 L35.43,284.91 L36.75,283.81 L38.08,282.36 L39.40,280.90 L40.73,279.49 L42.05,278.06 L43.38,276.46 L44.70,274.55 L46.03,272.87 L47.36,271.35 L48.68,269.46 L50.01,267.09 L51.33,264.47 L52.66,262.21 L53.98,260.14 L55.31,257.80 L56.64,255.39 L57.96,253.00 L59.29,250.30 L60.61,247.51 L61.94,245.01 L63.26,242.49 L64.59,240.01 L65.91,237.84 L67.24,235.46 L68.57,232.83 L69.89,230.38 L71.22,228.16 L72.54,225.93 L73.87,223.41 L75.19,220.81 L76.52,218.29 L77.84,215.89 L79.17,213.56 L80.50,210.57 L81.82,207.91 L83.15,206.42 L84.47,204.24 L85.80,201.65 L87.12,199.70 L88.45,198.40 L89.78,197.44 L91.10,195.36 L92.43,193.13 L93.75,192.03 L95.08,191.32 L96.40,190.31 L97.73,188.18 L99.05,186.47 L100.38,186.07 L101.71,185.33 L103.03,183.82 L104.36,182.66 L105.68,182.80 L107.01,182.37 L108.33,181.11 L109.66,180.76 L110.98,180.87 L112.31,181.00 L113.64,180.41 L114.96,179.83 L116.29,180.05 L117.61,179.82 L118.94,179.54 L120.26,179.73 L121.59,179.38 L122.92,179.63 L124.24,180.80 L125.57,180.88 L126.89,180.84 L128.22,181.21 L129.54,181.11 L130.87,181.51 L132.19,182.53 L133.52,183.53 L134.85,184.79 L136.17,185.92 L137.50,186.64 L138.82,187.79 L140.15,188.81 L141.47,189.60 L142.80,190.81 L144.12,192.32 L145.45,194.14 L146.78,195.59 L148.10,196.41 L149.43,197.50 L150.75,199.08 L152.08,200.76 L153.40,202.45 L154.73,203.70 L156.06,205.03 L157.38,206.96 L158.71,208.36 L160.03,209.55 L161.36,211.08 L162.68,212.23 L164.01,213.41 L165.33,214.77 L166.66,215.94 L167.99,217.30 L169.31,219.12 L170.64,221.14 L171.96,222.44 L173.29,223.44 L174.61,224.82 L175.94,225.93 L177.26,227.18 L178.59,228.62 L179.92,230.16 L181.24,231.69 L182.57,232.31 L183.89,233.12 L185.22,234.70 L186.54,235.81 L187.87,236.33 L189.20,237.36 L190.52,239.45 L191.85,241.28 L193.17,242.48 L194.50,243.86 L195.82,245.03 L197.15,245.93 L198.47,246.88 L199.80,247.74 L201.13,249.00 L202.45,250.57 L203.78,251.47 L205.10,252.25 L206.43,253.57 L207.75,254.71 L209.08,255.76 L210.40,257.05 L211.73,257.94 L213.06,258.66 L214.38,260.16 L215.71,261.69 L217.03,262.51 L218.36,263.69 L219.68,265.13 L221.01,266.01 L222.34,266.70 L223.66,267.83 L224.99,269.23 L226.31,270.33 L227.64,271.02 L228.96,272.02 L230.29,273.55 L231.61,274.77 L232.94,275.47 L234.27,276.24 L235.59,277.30 L236.92,278.39 L238.24,279.21 L239.57,279.87 L240.89,280.80 L242.22,281.64 L243.54,282.38 L244.87,283.37 L246.20,284.20 L247.52,284.93 L248.85,285.58 L250.17,286.12 L251.50,286.94 L252.82,287.82 L254.15,288.54 L255.48,289.06 L256.80,289.22 L258.13,289.67 L259.45,290.55 L260.78,291.45 L262.10,292.15 L263.43,292.36 L264.75,292.57 L266.08,293.05 L267.41,293.29 L268.73,293.82 L270.06,294.70 L271.38,295.09 L272.71,295.32 L274.03,295.81 L275.36,296.24 L276.68,296.52 L278.01,296.70 L279.34,296.71 L280.66,297.01 L281.99,297.74 L283.31,298.18 L284.64,298.28 L285.96,298.43 L287.29,298.59 L288.62,298.86 L289.94,299.30 L291.27,299.55 L292.59,299.66 L293.92,299.88 L295.24,300.12 L296.57,300.30 L297.89,300.33 L299.22,300.37 L300.55,300.75 L301.87,301.06 L303.20,300.98 L304.52,301.06 L305.85,301.36 L307.17,301.53 L308.50,301.47 L309.82,301.42 L311.15,301.55 L312.48,301.60 L313.80,301.73 L315.13,301.97 L316.45,302.11 L317.78,302.42 L319.10,302.70 L320.43,302.63 L321.76,302.47 L323.08,302.37 L324.41,302.36 L325.73,302.42 L327.06,302.49 L328.38,302.55 L329.71,302.65 L331.03,302.73 L332.36,302.70 L333.69,302.67 L335.01,302.80 L336.34,303.01 L337.66,303.16 L338.99,303.27 L340.31,303.29 L341.64,303.23 L342.96,303.19 L344.29,303.24 L345.62,303.48 L346.94,303.51 L348.27,303.29 L349.59,303.23 L350.92,303.24 L352.24,303.17 L353.57,303.25 L354.90,303.43 L356.22,303.43 L357.55,303.42 L358.87,303.44 L360.20,303.40 L361.52,303.40 L362.85,303.38 L364.17,303.38 L365.50,303.42 L366.83,303.48 L368.15,303.57 L369.48,303.60 L370.80,303.58 L372.13,303.49 L373.45,303.43 L374.78,303.34 L376.10,303.31 L377.43,303.47 L378.76,303.50 L380.08,303.46 L381.41,303.50 L382.73,303.48 L384.06,303.49 L385.38,303.57 L386.71,303.49 L388.04,303.45 L389.36,303.61 L390.69,303.63 L392.01,303.47 L393.34,303.36 L394.66,303.30 L395.99,303.39 L397.31,303.55 L398.64,303.54 L399.97,303.48 L401.29,303.58 L402.62,303.69 L403.94,303.61 L405.27,303.59 L406.59,303.70 L407.92,303.69 L409.24,303.60 L410.57,303.49 L411.90,303.40 L413.22,303.43 L414.55,303.51 L415.87,303.58 L417.20,303.64 L418.52,303.67 L419.85,303.65 L421.18,303.59 L422.50,303.44 L423.83,303.37 L425.15,303.43 L426.48,303.48 L427.80,303.50 L429.13,303.50 L430.45,303.45 L431.78,303.46 L433.11,303.55 L434.43,303.58 L435.76,303.57 L437.08,303.60 L438.41,303.56 L439.73,303.51 L441.06,303.64 L442.38,303.73 L443.71,303.67 L445.04,303.72 L446.36,303.82 L447.69,303.74 L449.01,303.67 L450.34,303.73 L451.66,303.68 L452.99,303.58 L454.32,303.60 L455.64,303.64 L456.97,303.62 L458.29,303.64 L459.62,303.67 L460.94,303.55 L462.27,303.52 L463.59,303.65 L464.92,303.73 L466.25,303.67 L467.57,303.60 L468.90,303.66 L470.22,303.75 L471.55,303.71 L472.87,303.58 L474.20,303.56 L475.52,303.52 L476.85,303.43 L478.18,303.52 L479.50,303.64 L480.83,303.58 L482.15,303.56 L483.48,303.68 L484.80,303.75 L486.13,303.69 L487.46,303.57 L488.78,303.60 L490.11,303.65 L491.43,303.56 L492.76,303.55 L494.08,303.70 L495.41,303.71 L496.73,303.47 L498.06,303.29 L499.39,303.34 L500.71,303.46 L502.04,303.57 L503.36,303.64 L504.69,303.58 L506.01,303.54 L507.34,303.55 L508.66,303.53 L509.99,303.53 L511.32,303.65 L512.64,303.82 L513.97,303.74 L515.29,303.53 L516.62,303.47 L517.94,303.46 L519.27,303.42 L520.60,303.45 L521.92,303.55 L523.25,303.62 L524.57,303.57 L525.90,303.47 L527.22,303.41 L528.55,303.45 L529.87,303.54 L531.20,303.63 L532.53,303.66 L533.85,303.64 L535.18,303.67 L536.50,303.66 L537.83,303.53 L539.15,303.37 L540.48,303.39 L541.80,303.44 L543.13,303.04 L544.46,301.78 L545.78,298.64 L547.11,291.83 L548.43,279.07 L549.76,258.48 L551.08,229.84 L552.41,195.72 L553.74,161.87 L555.06,135.43 L556.39,121.54 L557.71,120.24 L559.04,131.08 L560.36,155.17 L561.69,187.81 L563.01,222.39 L564.34,252.79 L565.67,275.28 L566.99,289.58 L568.32,297.47 L569.64,301.21 L570.97,302.74 L572.29,303.32 L573.62,303.45 L574.94,303.48 L576.27,303.50 L577.60,303.47 L578.92,303.41 L580.25,303.49 L581.57,303.57 L582.90,303.66 L584.22,303.71 L585.55,303.64 L586.88,303.55 L588.20,303.49 L589.53,303.51 L590.85,303.48 L592.18,303.40 L593.50,303.40 L594.83,303.42 L596.15,303.44 L597.48,303.42 L598.81,303.32 L600.13,303.32 L601.46,303.32 L602.78,303.20 L604.11,303.28 L605.43,303.32 L606.76,303.10 L608.08,303.15 L609.41,303.25 L610.74,303.29 L612.06,303.33 L613.39,303.21 L614.71,303.35 L616.04,303.52 L617.36,303.40 L618.69,303.27 L620.02,303.20 L621.34,303.18 L622.67,303.18 L623.99,303.10 L625.32,303.14 L626.64,303.20 L627.97,303.07 L629.29,303.06 L630.62,303.06 L631.95,303.05 L633.27,303.18 L634.60,303.12 L635.92,302.95 L637.25,302.96 L638.57,302.95 L639.90,302.95 L641.22,302.99 L642.55,303.02 L643.88,303.05 L645.20,303.05 L646.53,303.07 L647.85,303.09 L649.18,303.04 L650.50,302.94 L651.83,302.82 L653.16,302.84 L654.48,302.99 L655.81,303.18 L657.13,303.27 L658.46,303.18 L659.78,302.99 L661.11,302.90 L662.43,302.91 L663.76,302.97 L665.09,303.07 L666.41,302.98 L667.74,302.76 L669.06,302.78 L670.39,302.94 L671.71,302.90 L673.04,302.85 L674.36,302.88 L675.69,302.78 L677.02,302.69 L678.34,302.58 L679.67,302.55 L680.99,302.65 L682.32,302.60 L683.64,302.54 L684.97,302.59"/>
</g>
<rect x="333.1" y="38.6" width="114.3" height="81.8" fill="#fff" stroke="#1c1c1c" stroke-width="1.2"/>
<g font-family="'Liberation Sans', Arial, sans-serif" font-size="12.4" fill="#000">
<path d="M347.5,46.4 H374.6" stroke="#00B0F0" stroke-width="3.2" stroke-linecap="round" fill="none"/>
<text x="377" y="50.80" textLength="41.1" lengthAdjust="spacingAndGlyphs">N h2o2</text>
<path d="M347.5,63.0 H374.6" stroke="#000000" stroke-width="3.2" stroke-linecap="round" fill="none"/>
<text x="377" y="67.40" textLength="41.8" lengthAdjust="spacingAndGlyphs">control</text>
<path d="M347.5,79.5 H374.6" stroke="#FF0000" stroke-width="3.2" stroke-linecap="round" fill="none"/>
<text x="377" y="83.90" textLength="57.3" lengthAdjust="spacingAndGlyphs">N ethanol</text>
<path d="M347.5,96.2 H374.6" stroke="#6A4C93" stroke-width="3.2" stroke-linecap="round" fill="none"/>
<text x="377" y="100.60" textLength="14.6" lengthAdjust="spacingAndGlyphs">oh</text>
<path d="M347.5,112.6 H374.6" stroke="#00B050" stroke-width="3.2" stroke-linecap="round" fill="none"/>
<text x="377" y="117.00" textLength="37.4" lengthAdjust="spacingAndGlyphs">N Cold</text>
</g>
</svg>
</body></html>
